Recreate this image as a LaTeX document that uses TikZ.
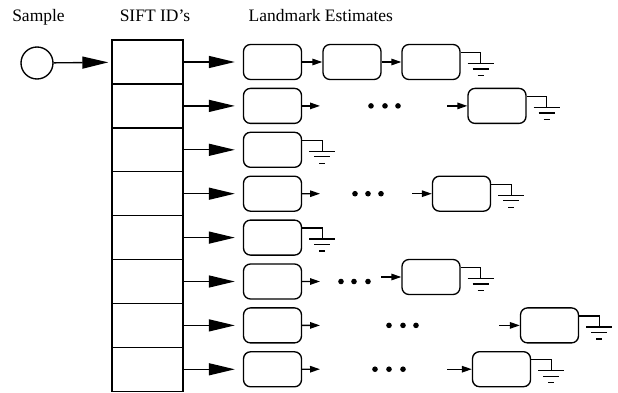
\documentclass[tikz,border=0pt]{standalone}
\usepackage{fontspec}
\setmainfont{Liberation Serif}
\usetikzlibrary{arrows.meta}
\tikzset{
  idcell/.style={draw, minimum width=71pt, minimum height=43.9pt, inner sep=0pt},
  lmbox/.style={draw, rounded corners=7pt, minimum width=58pt, minimum height=35pt, inner sep=0pt},
  bigarr/.style={-{Triangle[length=26pt,width=12pt]}},
  smallarr/.style={-{Triangle[length=10pt,width=6.5pt]}},
  gnd/.pic={\draw (-13,0) -- (13,0) (-8,5.5) -- (8,5.5) (-3,12) -- (3,12);}
}
% ground symbol hanging off a landmark box
\newcommand{\groundbox}[1]{\draw ([yshift=9.5pt]#1.east) -- ++(20,0) -- ++(0,11) pic{gnd};}
\begin{document}
\begin{tikzpicture}[x=1pt,y=-1pt,line width=1.35pt,font=\fontsize{17.5}{20}\selectfont]
      \useasboundingbox (0,0) rectangle (618,393);
      % headings
      \node[anchor=base] (hsample) at (38.5,22) {Sample};
      \node[anchor=base] (hsift) at (155,22) {SIFT ID’s};
      \node[anchor=base west,inner sep=0pt] (hland) at (248,22) {Landmark Estimates};
      \node[draw,circle,minimum size=32pt,inner sep=0pt] (sample) at (37,63) {};
      % id column and first estimate of every row
      \foreach \i in {1,...,8} {
        \pgfmathsetmacro\r{18.1+43.9*\i}
        \node[idcell] (id\i) at (147.5,\r) {};
        \node[lmbox] (a\i) at (272.5,\r) {};
        \draw[bigarr,shorten >=8pt] (id\i) -- (a\i);
      }
      \draw[bigarr,shorten >=3pt] (sample) -- (id1);
      % row 1
      \node[lmbox] (b1) at (352,62) {};
      \node[lmbox] (e1) at (431,62) {};
      \draw[smallarr] (a1) -- (b1);
      \draw[smallarr] (b1) -- (e1);
      \groundbox{e1}
      % row 2
      \coordinate (c2) at (320,105.9);
      \coordinate (d2) at (447,105.9);
      \node[lmbox] (e2) at (497,105.9) {};
      \draw[smallarr] (a2) -- (c2);
      \foreach \x in {371,385,398} \fill (\x,105.9) circle (2.8pt);
      \draw[smallarr] (d2) -- (e2);
      \groundbox{e2}
      % rows 3 and 5
      \groundbox{a3}
      \groundbox{a5}
      % row 4
      \coordinate (c4) at (320,193.7);
      \coordinate (d4) at (412,193.7);
      \node[lmbox] (e4) at (461.5,193.7) {};
      \draw[smallarr] (a4) -- (c4);
      \foreach \x in {355,368,381} \fill (\x,193.7) circle (2.8pt);
      \draw[smallarr] (d4) -- (e4);
      \groundbox{e4}
      % row 6
      \coordinate (c6) at (320,281.5);
      \coordinate (d6) at (381,277);
      \node[lmbox] (e6) at (431,277) {};
      \draw[smallarr] (a6) -- (c6);
      \foreach \x in {341,354,368} \fill (\x,281.5) circle (2.8pt);
      \draw[smallarr] (d6) -- (e6);
      \groundbox{e6}
      % row 7
      \coordinate (c7) at (320,325.4);
      \coordinate (d7) at (499,325.4);
      \node[lmbox] (e7) at (549.5,325.4) {};
      \draw[smallarr] (a7) -- (c7);
      \foreach \x in {389,403,416} \fill (\x,325.4) circle (2.8pt);
      \draw[smallarr] (d7) -- (e7);
      \groundbox{e7}
      % row 8
      \coordinate (c8) at (320,369.2);
      \coordinate (d8) at (447,369.2);
      \node[lmbox] (e8) at (501.5,369.2) {};
      \draw[smallarr] (a8) -- (c8);
      \foreach \x in {375,389,403} \fill (\x,369.2) circle (2.8pt);
      \draw[smallarr] (d8) -- (e8);
      \groundbox{e8}
\end{tikzpicture}
\end{document}
